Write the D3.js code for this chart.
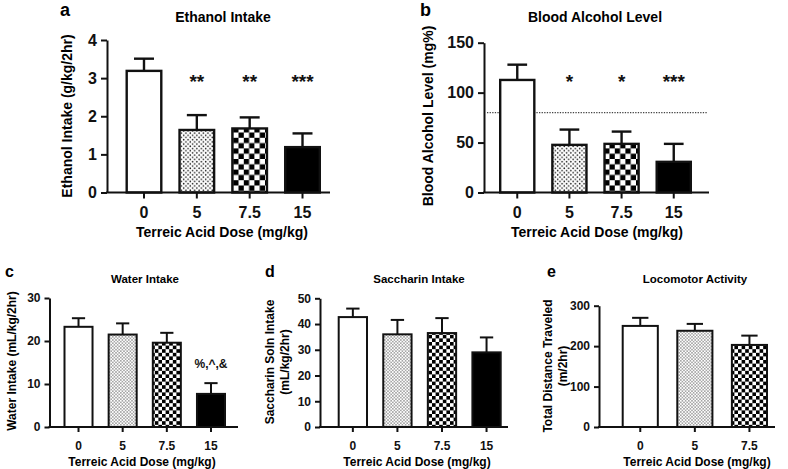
<!DOCTYPE html>
<html>
<head>
<meta charset="utf-8">
<script src="https://cdn.jsdelivr.net/npm/d3@7"></script>
<style>
  body { margin: 0; background: #fff; }
  svg { display: block; font-family: "Liberation Sans", Arial, sans-serif; font-weight: bold; }
  .axis path, .axis line { stroke: #111; stroke-width: 2; }
  .axis text { fill: #111; font-weight: bold; font-family: "Liberation Sans", Arial, sans-serif; }
</style>
</head>
<body>
<svg id="fig" width="788" height="469"></svg>
<script>
// dose groups (mg/kg)
const doses = ['0', '5', '7.5', '15'];
const dosesLoco = ['0', '5', '7.5'];

// a: ethanol intake (g/kg/2hr)
const ethanolMean = [3.19, 1.64, 1.68, 1.19];
const ethanolSem = [0.32, 0.39, 0.29, 0.36];
const ethanolSig = ['', '**', '**', '***'];
const ethanolTicks = [0, 1, 2, 3, 4];

// b: blood alcohol level (mg%)
const bacMean = [112.7, 47.7, 48.7, 30.7];
const bacSem = [15.3, 15.3, 12.3, 18];
const bacSig = ['', '*', '*', '***'];
const bacTicks = [0, 50, 100, 150];
const bacThreshold = 80;

// c: water intake (mL/kg/2hr)
const waterMean = [23.3, 21.5, 19.6, 7.7];
const waterSem = [2.0, 2.6, 2.3, 2.5];
const waterSig = ['', '', '', '%,^,&'];
const waterTicks = [0, 10, 20, 30];

// d: saccharin solution intake (mL/kg/2hr)
const saccharinMean = [42.7, 36.0, 36.5, 29.0];
const saccharinSem = [3.3, 5.6, 5.8, 5.8];
const saccharinTicks = [0, 10, 20, 30, 40, 50];

// e: locomotor activity (m/2hr)
const locoMean = [250, 238, 203];
const locoSem = [20, 17, 23];
const locoTicks = [0, 100, 200, 300];

const svg = d3.select('#fig');
const defs = svg.append('defs');

// fill patterns: dots and checkerboard, big (top row) and small (bottom row)
function dotPattern(id, s, r) {
  const p = defs.append('pattern').attr('id', id)
      .attr('patternUnits', 'userSpaceOnUse').attr('width', s).attr('height', s);
  p.append('rect').attr('width', s).attr('height', s).attr('fill', '#fff');
  p.append('circle').attr('cx', s / 4).attr('cy', s / 4).attr('r', r).attr('fill', '#222');
  p.append('circle').attr('cx', 3 * s / 4).attr('cy', 3 * s / 4).attr('r', r).attr('fill', '#222');
}
function checkPattern(id, c) {
  const p = defs.append('pattern').attr('id', id)
      .attr('patternUnits', 'userSpaceOnUse').attr('width', 2 * c).attr('height', 2 * c);
  p.append('rect').attr('width', 2 * c).attr('height', 2 * c).attr('fill', '#fff');
  p.append('rect').attr('width', c).attr('height', c).attr('fill', '#000');
  p.append('rect').attr('x', c).attr('y', c).attr('width', c).attr('height', c).attr('fill', '#000');
}
dotPattern('dotsBig', 4.4, 0.8);
checkPattern('checkBig', 5.3);
dotPattern('dotsSmall', 3.2, 0.6);
checkPattern('checkSmall', 3.6);

function panel(cfg, cats, mean, sem, sig, ticks) {
  const g = svg.append('g');
  const fills = ['#fff', `url(#${cfg.dots})`, `url(#${cfg.check})`, '#000'];

  const x = d3.scaleBand().domain(cats).range(cfg.bars).paddingInner(cfg.pad);
  const y = d3.scaleLinear().domain([0, d3.max(ticks)]).range([cfg.y0, cfg.y1]);

  // reference line (drawn before the bars so it is hidden behind them)
  if (cfg.threshold !== undefined) {
    g.append('line')
        .attr('x1', cfg.ax + 3).attr('x2', cfg.xEnd - 2)
        .attr('y1', y(cfg.threshold)).attr('y2', y(cfg.threshold))
        .attr('stroke', '#444').attr('stroke-width', 1.3)
        .attr('stroke-dasharray', '1.3,1.3');
  }

  // error bars (upper only)
  const cap = x.bandwidth() * cfg.cap;
  cats.forEach((c, i) => {
    const cx = x(c) + x.bandwidth() / 2;
    g.append('line').attr('x1', cx).attr('x2', cx)
        .attr('y1', y(mean[i])).attr('y2', y(mean[i] + sem[i]))
        .attr('stroke', '#111').attr('stroke-width', cfg.sw);
    g.append('line').attr('x1', cx - cap).attr('x2', cx + cap)
        .attr('y1', y(mean[i] + sem[i])).attr('y2', y(mean[i] + sem[i]))
        .attr('stroke', '#111').attr('stroke-width', cfg.sw);
  });

  // bars
  g.selectAll('.bar')
    .data(cats)
    .join('rect')
      .attr('class', 'bar')
      .attr('x', d => x(d) + cfg.sw / 2)
      .attr('width', x.bandwidth() - cfg.sw)
      .attr('y', (d, i) => y(mean[i]))
      .attr('height', (d, i) => y(0) - y(mean[i]))
      .attr('fill', (d, i) => fills[i])
      .attr('stroke', '#111')
      .attr('stroke-width', cfg.sw);

  // significance marks
  if (sig) {
    g.selectAll('.sig')
      .data(cats)
      .join('text')
        .attr('class', 'sig')
        .attr('x', d => x(d) + x.bandwidth() / 2)
        .attr('y', cfg.sigY)
        .attr('text-anchor', 'middle')
        .style('font-size', (d, i) => sig[i].indexOf('*') >= 0 ? cfg.starFont + 'px' : cfg.tickFont + 'px')
        .attr('fill', '#111')
        .text((d, i) => sig[i]);
  }

  // axes
  g.append('g')
      .attr('class', 'axis')
      .attr('transform', `translate(${cfg.ax},0)`)
      .call(d3.axisLeft(y).tickValues(ticks).tickFormat(d3.format('d'))
        .tickSize(cfg.tick).tickSizeOuter(0).tickPadding(cfg.pad2))
      .call(a => a.selectAll('text').style('font-size', cfg.tickFont + 'px'));

  g.append('line')
      .attr('x1', cfg.ax - 1).attr('x2', cfg.xEnd)
      .attr('y1', cfg.y0).attr('y2', cfg.y0)
      .attr('stroke', '#111').attr('stroke-width', 2);

  g.append('g')
      .attr('class', 'axis')
      .attr('transform', `translate(0,${cfg.y0})`)
      .call(d3.axisBottom(x).tickSize(cfg.tick).tickPadding(cfg.xPad))
      .call(a => a.select('.domain').remove())
      .call(a => a.selectAll('text').style('font-size', cfg.tickFont + 'px'));

  // titles
  g.append('text').attr('x', cfg.letter[0]).attr('y', cfg.letter[1])
      .style('font-size', cfg.letterFont + 'px').text(cfg.letterText);
  g.append('text').attr('x', cfg.title[0]).attr('y', cfg.title[1])
      .attr('text-anchor', 'middle').style('font-size', cfg.titleFont + 'px').text(cfg.titleText);
  g.append('text').attr('x', cfg.xTitle[0]).attr('y', cfg.xTitle[1])
      .attr('text-anchor', 'middle').style('font-size', cfg.labelFont + 'px')
      .text('Terreic Acid Dose (mg/kg)');
  cfg.yTitle.forEach((t, k) => {
    g.append('text')
        .attr('transform', `translate(${cfg.yTitleX[k]},${cfg.yTitleY}) rotate(-90)`)
        .attr('text-anchor', 'middle')
        .style('font-size', cfg.labelFont + 'px')
        .text(t);
  });
}

const big = { dots: 'dotsBig', check: 'checkBig', sw: 2.4, tick: 6, pad2: 4, xPad: 8, cap: 0.27,
  tickFont: 16, starFont: 19, titleFont: 14, labelFont: 14, letterFont: 18, pad: 0.3 };
const small = { dots: 'dotsSmall', check: 'checkSmall', sw: 2, tick: 5, pad2: 4, xPad: 9, cap: 0.22,
  tickFont: 12, starFont: 14, titleFont: 11.5, labelFont: 12, letterFont: 16, pad: 0.32 };

panel(Object.assign({}, big, {
  ax: 107, y0: 192.5, y1: 40, bars: [125.5, 321], xEnd: 330, sigY: 88,
  letter: [60, 16], letterText: 'a', title: [223, 22], titleText: 'Ethanol Intake',
  xTitle: [222, 237], yTitle: ['Ethanol Intake (g/kg/2hr)'], yTitleX: [72], yTitleY: 116
}), doses, ethanolMean, ethanolSem, ethanolSig, ethanolTicks);

panel(Object.assign({}, big, {
  ax: 484, y0: 192.5, y1: 42.7, bars: [499, 692], xEnd: 709, sigY: 88, threshold: bacThreshold,
  letter: [420, 16], letterText: 'b', title: [595, 22], titleText: 'Blood Alcohol Level',
  xTitle: [597, 237], yTitle: ['Blood Alcohol Level (mg%)'], yTitleX: [433], yTitleY: 116
}), doses, bacMean, bacSem, bacSig, bacTicks);

panel(Object.assign({}, small, {
  ax: 49.5, y0: 427, y1: 298, bars: [63.5, 226], xEnd: 238, sigY: 368,
  letter: [5, 277], letterText: 'c', title: [145, 283], titleText: 'Water Intake',
  xTitle: [142, 466], yTitle: ['Water Intake (mL/kg/2hr)'], yTitleX: [16], yTitleY: 361
}), doses, waterMean, waterSem, waterSig, waterTicks);

panel(Object.assign({}, small, {
  ax: 320, y0: 427, y1: 298.3, bars: [337.7, 501.7], xEnd: 508,
  letter: [265, 277], letterText: 'd', title: [419, 283], titleText: 'Saccharin Intake',
  xTitle: [417, 466], yTitle: ['Saccharin Soln Intake', '(mL/kg/2hr)'], yTitleX: [274, 289], yTitleY: 362
}), doses, saccharinMean, saccharinSem, null, saccharinTicks);

panel(Object.assign({}, small, {
  ax: 599, y0: 427, y1: 305.7, bars: [621.7, 768], xEnd: 775,
  letter: [547, 277], letterText: 'e', title: [695, 283], titleText: 'Locomotor Activity',
  xTitle: [697, 466], yTitle: ['Total Distance Traveled', '(m/2hr)'], yTitleX: [552, 567], yTitleY: 366
}), dosesLoco, locoMean, locoSem, null, locoTicks);
</script>
</body>
</html>
